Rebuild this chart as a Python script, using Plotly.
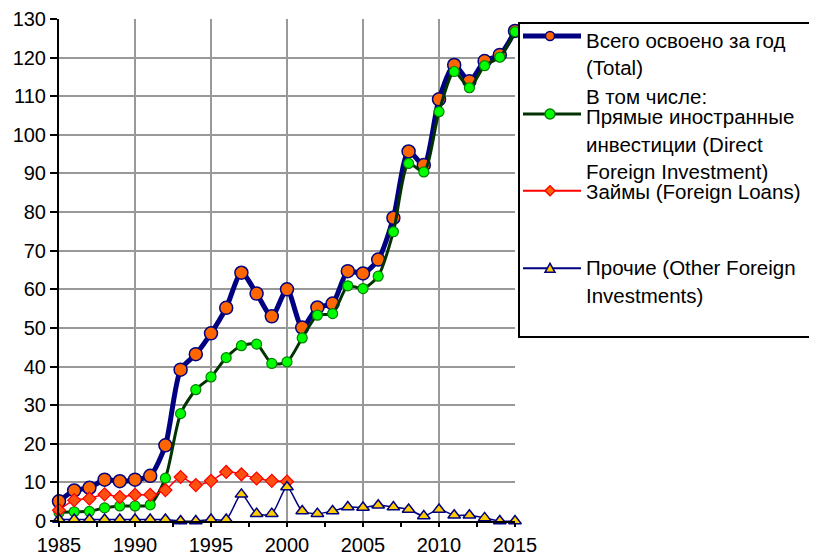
import plotly.graph_objects as go

# the page body adds an 8px margin, so the figure is drawn 8px smaller
OFF = 8
W, H = 817 - OFF, 558 - OFF

years = list(range(1985, 2016))

total = [5.1, 7.9, 8.6, 10.7, 10.3, 10.7, 11.7, 19.6, 39.2, 43.2,
         48.6, 55.2, 64.3, 58.9, 53.0, 60.0, 50.1, 55.3, 56.3, 64.7,
         64.1, 67.7, 78.5, 95.7, 92.2, 109.2, 118.1, 113.9, 119.1, 120.7,
         126.9]

direct = [2.2, 2.4, 2.5, 3.4, 3.9, 3.9, 4.2, 11.1, 27.8, 34.0,
          37.3, 42.3, 45.4, 45.8, 40.8, 41.2, 47.4, 53.3, 53.7, 60.9,
          60.2, 63.4, 74.9, 92.6, 90.4, 106.0, 116.4, 112.2, 117.9, 120.1,
          126.7]

loans_years = list(range(1985, 2001))
loans = [2.8, 5.4, 5.8, 6.9, 6.2, 6.8, 6.8, 8.0, 11.4, 9.3,
         10.4, 12.7, 12.1, 11.0, 10.4, 10.2]

other = [0.4, 0.4, 0.4, 0.4, 0.4, 0.4, 0.4, 0.4, 0.0, 0.0,
         0.4, 0.4, 6.9, 1.9, 1.9, 8.8, 2.6, 1.9, 2.6, 3.6,
         3.5, 4.1, 3.6, 3.0, 1.3, 3.0, 1.5, 1.5, 0.8, 0.0,
         0.0]

legend_lines = [
    "Всего освоено за год", "(Total)",
    "В том числе:", "Прямые иностранные", "инвестиции (Direct",
    "Foreign Investment)",
    "Займы (Foreign Loans)",
    "Прочие (Other Foreign", "Investments)",
]
legend_line_y = [40, 67.7, 96, 116.7, 144, 171.7, 191.7, 268, 295]

FONT = "Liberation Sans, Arial, sans-serif"
NAVY = "#000080"
ORANGE = "#FF6600"
DKGREEN = "#003300"
LIME = "#00FF00"
RED = "#FF0000"
GOLD = "#FFCC00"


def px_x(v):
    return (v - OFF) / W


def px_y(v):
    return 1 - (v - OFF) / H


fig = go.Figure()

fig.add_trace(go.Scatter(
    x=years, y=total, mode="lines+markers", cliponaxis=False,
    line=dict(color=NAVY, width=5, shape="spline", smoothing=0.7),
    marker=dict(symbol="circle", size=13, color=ORANGE,
                line=dict(color=NAVY, width=1.5)),
))
fig.add_trace(go.Scatter(
    x=years, y=direct, mode="lines+markers", cliponaxis=False,
    line=dict(color=DKGREEN, width=3, shape="spline", smoothing=0.7),
    marker=dict(symbol="circle", size=10, color=LIME,
                line=dict(color="#008000", width=1.2)),
))
fig.add_trace(go.Scatter(
    x=loans_years, y=loans, mode="lines+markers", cliponaxis=False,
    line=dict(color=RED, width=1.5, shape="spline", smoothing=0.7),
    marker=dict(symbol="diamond", size=10, color="#FF5010",
                line=dict(color=RED, width=1.2)),
))
fig.add_trace(go.Scatter(
    x=years, y=other, mode="lines+markers", cliponaxis=False,
    line=dict(color=NAVY, width=1.5, shape="spline", smoothing=0.7),
    marker=dict(symbol="triangle-up", size=11, color=GOLD,
                line=dict(color=NAVY, width=1.5)),
))

# hand-made legend box (Excel style)
shapes = [dict(type="rect", xref="paper", yref="paper",
               x0=px_x(519), x1=px_x(840), y0=px_y(337), y1=px_y(23),
               line=dict(color="black", width=2), fillcolor="white",
               layer="above")]

samples = [
    (36, NAVY, 5, "circle", 9, ORANGE, NAVY),
    (114, DKGREEN, 3, "circle", 10, LIME, "#008000"),
    (190.7, RED, 2, "diamond", 10, ORANGE, RED),
    (268.3, NAVY, 2, "triangle", 10, GOLD, NAVY),
]
for yy, lc, lw, sym, sz, fc, bc in samples:
    shapes.append(dict(type="line", xref="paper", yref="paper",
                       x0=px_x(523), x1=px_x(581), y0=px_y(yy), y1=px_y(yy),
                       line=dict(color=lc, width=lw), layer="above"))
    h = sz / 2
    common = dict(xref="paper", yref="paper", xsizemode="pixel",
                  ysizemode="pixel", xanchor=px_x(550), yanchor=px_y(yy),
                  fillcolor=fc, line=dict(color=bc, width=1.5),
                  layer="above")
    if sym == "circle":
        shapes.append(dict(type="circle", x0=-h, x1=h, y0=-h, y1=h,
                           **common))
    elif sym == "diamond":
        shapes.append(dict(type="path",
                           path=f"M{-h},0 L0,{h} L{h},0 L0,{-h} Z",
                           **common))
    else:
        shapes.append(dict(type="path",
                           path=f"M{-h},{-h*0.8} L{h},{-h*0.8} L0,{h} Z",
                           **common))

annotations = []
for txt, yy in zip(legend_lines, legend_line_y):
    annotations.append(dict(
        text=txt, xref="paper", yref="paper", x=px_x(584), y=px_y(yy),
        xanchor="left", yanchor="middle", showarrow=False,
        font=dict(family=FONT, size=20.5, color="black"),
    ))

fig.update_layout(
    width=W, height=H,
    margin=dict(l=0, r=0, t=0, b=0),
    paper_bgcolor="white",
    plot_bgcolor="white",
    showlegend=False,
    font=dict(family=FONT, size=20, color="black"),
    shapes=shapes,
    annotations=annotations,
    xaxis=dict(
        domain=[px_x(59), px_x(515)],
        range=[1985, 2015],
        tickmode="linear", tick0=1985, dtick=5,
        showgrid=True, gridcolor="#999999", gridwidth=1.5,
        showline=True, linecolor="black", linewidth=2,
        ticks="outside", ticklen=4, tickcolor="black", tickwidth=1.5,
        minor=dict(dtick=2.5, tick0=1985, ticks="outside", ticklen=4,
                   tickcolor="black", tickwidth=1.5, showgrid=False),
        ticklabelstandoff=1,
        zeroline=False, automargin=False,
    ),
    yaxis=dict(
        domain=[px_y(521), px_y(19)],
        range=[0, 130],
        tickmode="linear", tick0=0, dtick=10,
        showgrid=True, gridcolor="#999999", gridwidth=1.5,
        showline=True, linecolor="black", linewidth=2,
        ticks="outside", ticklen=7, tickcolor="black", tickwidth=1.5,
        zeroline=False, automargin=False,
    ),
)

fig.write_html("out.html")
